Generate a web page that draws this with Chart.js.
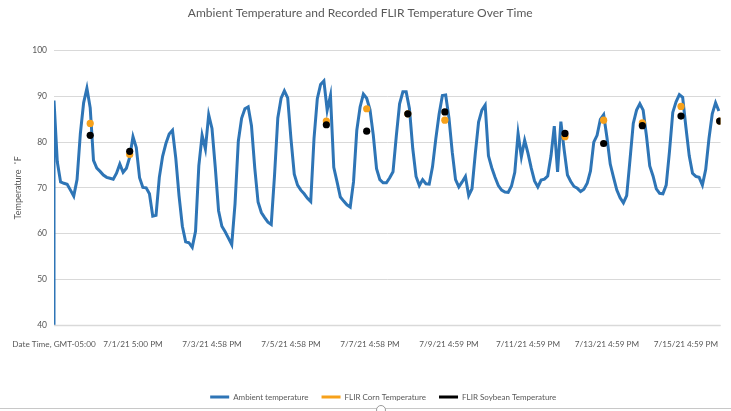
<!DOCTYPE html>
<html>
<head>
<meta charset="utf-8">
<script src="https://cdn.jsdelivr.net/npm/chart.js@4.4.1/dist/chart.umd.min.js"></script>
<style>
    html, body { margin: 0; padding: 0; background: #fff; }
    #wrap { position: relative; width: 731px; height: 411px; overflow: hidden; }
    /* excel selection frame at the bottom of the screenshot */
    #frame { position: absolute; left: 0; right: 0; top: 408px; border-top: 1px solid #c8c8c8; }
    #handle { position: absolute; left: 376px; top: 405px; width: 8px; height: 8px; border: 1px solid #9a9a9a; border-radius: 50%; background: #fff; }
</style>
</head>
<body>
<div id="wrap">
    <canvas id="temp-lineGraph" width="731" height="411"></canvas>
    <div id="frame"></div>
    <div id="handle"></div>
</div>
<script>
// ambient readings, one every 2 hours, hour 0 = 6/29/21 ~5 PM
const sampleStepHours = 2;
// the header row of the export ends up plotted as 0 (drops off the axis)
const headerValue = 0;
const ambientTemp = [
    89.1, 75.7, 71.3, 71.0, 70.8, 69.5, 68.2, 71.8, 81.8, 88.6,
    91.8, 87.5, 76.0, 74.3, 73.6, 72.8, 72.3, 72.1, 71.9, 73.2,
    75.2, 73.4, 74.3, 76.7, 81.2, 78.8, 72.2, 70.1, 70.0, 68.7,
    63.8, 64.0, 72.3, 76.9, 79.7, 81.8, 82.6, 76.5, 68.2, 61.6,
    58.2, 58.0, 57.0, 60.5, 74.8, 81.5, 78.5, 86.0, 83.0, 74.5,
    65.0, 61.6, 60.4, 59.0, 57.6, 66.5, 80.2, 85.2, 87.3, 87.7,
    83.6, 74.3, 66.9, 64.6, 63.5, 62.5, 62.0, 72.7, 85.3, 89.6,
    91.2, 89.7, 80.7, 73.0, 70.6, 69.5, 68.7, 67.7, 67.0, 80.8,
    89.5, 92.6, 93.4, 87.0, 90.2, 74.5, 71.3, 68.0, 67.1, 66.3,
    65.8, 71.3, 82.6, 87.7, 90.5, 89.6, 87.1, 81.6, 74.2, 71.8,
    71.1, 71.1, 72.2, 73.5, 81.3, 88.4, 91.0, 91.0, 87.3, 78.6,
    72.5, 70.5, 71.8, 70.9, 70.8, 74.6, 80.7, 86.1, 90.2, 90.3,
    85.3, 77.8, 71.8, 70.2, 71.3, 72.5, 68.3, 69.8, 77.5, 84.4,
    87.0, 88.1, 77.0, 74.4, 72.3, 70.5, 69.5, 69.1, 69.0, 70.4,
    73.4, 81.9, 76.8, 80.4, 77.6, 74.3, 71.5, 70.2, 71.7, 71.9,
    72.6, 77.0, 83.5, 73.5, 84.5, 78.3, 72.8, 71.4, 70.3, 69.9,
    69.2, 69.7, 71.0, 73.7, 80.0, 81.5, 85.0, 86.0, 81.0, 75.2,
    72.3, 69.5, 67.8, 66.7, 68.3, 76.1, 84.1, 87.0, 88.4, 87.0,
    81.4, 74.8, 72.6, 69.8, 68.8, 68.7, 70.6, 78.0, 86.5, 88.8,
    90.4, 89.8, 83.2, 77.0, 73.2, 72.5, 72.3, 70.6, 74.0, 80.8,
    86.2, 88.6, 86.8
];

// FLIR readings (hours since start)
const flirHours   = [22, 46, 165.5, 190, 215, 237.5, 310.5, 334, 357.5, 381, 404.5];
const cornTemp    = [84.1, 77.3, 84.6, 87.3, 86.2, 84.8, 81.2, 84.8, 84.2, 87.8, 84.6];
const soybeanTemp = [81.5, 78.0, 83.8, 82.4, 86.2, 86.6, 81.9, 79.7, 83.6, 85.7, 84.6];

// x axis labels, one every 48 hours
const tickHours = [0, 48, 96, 144, 192, 240, 288, 336, 384];
const tickLabels = [
    "Date Time, GMT-05:00", "7/1/21 5:00 PM", "7/3/21 4:58 PM", "7/5/21 4:58 PM",
    "7/7/21 4:58 PM", "7/9/21 4:59 PM", "7/11/21 4:59 PM", "7/13/21 4:59 PM", "7/15/21 4:59 PM"
];
// y axis ticks
const yTicks = [40, 50, 60, 70, 80, 90, 100];

document.addEventListener("DOMContentLoaded", () => {
    const textColor = "#595959";
    const gridColor = "#d9d9d9";
    const fontName = "Lato, 'Liberation Sans', sans-serif";

    // build {x, y} points for the linear time axis
    const ambientPoints = [{ x: 0, y: headerValue }]
        .concat(ambientTemp.map((v, i) => ({ x: i * sampleStepHours, y: v })));
    const cornPoints = flirHours.map((h, i) => ({ x: h, y: cornTemp[i] }));
    const soybeanPoints = flirHours.map((h, i) => ({ x: h, y: soybeanTemp[i] }));

    // legend is a bit right of center in the original
    const legendShift = {
        id: "legendShift",
        afterLayout(chart) {
            chart.legend.left += 23;
            chart.legend.right += 23;
        }
    };

    // bottom edge of the plot (the 40 line) drawn on top of everything
    const bottomLine = {
        id: "bottomLine",
        afterDatasetsDraw(chart) {
            const { ctx, chartArea } = chart;
            ctx.save();
            ctx.strokeStyle = gridColor;
            ctx.lineWidth = 1.5;
            ctx.beginPath();
            ctx.moveTo(chartArea.left, chartArea.bottom + 0.5);
            ctx.lineTo(chartArea.right, chartArea.bottom + 0.5);
            ctx.stroke();
            ctx.restore();
        }
    };

    new Chart(document.getElementById("temp-lineGraph"), {
        type: "line",
        data: {
            datasets: [{
                label: "Ambient temperature",
                data: ambientPoints,
                borderColor: "#2e75b6",
                backgroundColor: "#2e75b6",
                borderWidth: 3,
                pointRadius: 0,
                tension: 0,
                order: 3 // draw under the dots
            }, {
                label: "FLIR Corn Temperature",
                data: cornPoints,
                showLine: false,
                borderColor: "#f7a11a",
                backgroundColor: "#f7a11a",
                borderWidth: 0,
                pointRadius: 3.6,
                order: 2
            }, {
                label: "FLIR Soybean Temperature",
                data: soybeanPoints,
                showLine: false,
                borderColor: "#000000",
                backgroundColor: "#000000",
                borderWidth: 0,
                pointRadius: 3.6,
                order: 1
            }]
        },
        options: {
            responsive: false,
            animation: false,
            layout: { padding: { left: 0, right: 10.5, top: 0, bottom: 0 } },
            plugins: {
                title: {
                    display: true,
                    text: "Ambient Temperature and Recorded FLIR Temperature Over Time",
                    color: textColor,
                    font: { family: fontName, size: 12, weight: "normal" },
                    padding: { top: 6, bottom: 30.3 }
                },
                legend: {
                    position: "bottom",
                    labels: {
                        boxWidth: 19,
                        boxHeight: 3,
                        padding: 13,
                        color: textColor,
                        font: { family: fontName, size: 8 },
                        sort: (a, b) => a.datasetIndex - b.datasetIndex, // keep series order
                        generateLabels: (chart) => Chart.defaults.plugins.legend.labels.generateLabels(chart)
                            .map(item => Object.assign(item, { lineWidth: 0 }))
                    }
                },
                tooltip: { enabled: false }
            },
            scales: {
                x: {
                    type: "linear",
                    min: 0,
                    max: 405,
                    grid: { display: false },
                    border: { display: false },
                    afterBuildTicks: (scale) => {
                        scale.ticks = tickHours.map(v => ({ value: v }));
                    },
                    afterFit: (scale) => { scale.height = 55; },
                    ticks: {
                        callback: (value, index) => tickLabels[index],
                        autoSkip: false,
                        maxRotation: 0,
                        padding: 6,
                        color: textColor,
                        font: { family: fontName, size: 8.2 }
                    }
                },
                y: {
                    min: 40,
                    max: 100,
                    afterBuildTicks: (scale) => {
                        scale.ticks = yTicks.map(v => ({ value: v }));
                    },
                    afterFit: (scale) => { scale.width = 54; },
                    grid: { color: gridColor, drawTicks: false },
                    border: { display: false },
                    ticks: {
                        autoSkip: false,
                        padding: 7,
                        color: textColor,
                        font: { family: fontName, size: 8.5 }
                    },
                    title: {
                        display: true,
                        text: "Temperature  ˚F",
                        color: textColor,
                        font: { family: fontName, size: 9 },
                        padding: { top: 12.6, bottom: 0 }
                    }
                }
            }
        },
        plugins: [legendShift, bottomLine]
    });
});
</script>
</body>
</html>
